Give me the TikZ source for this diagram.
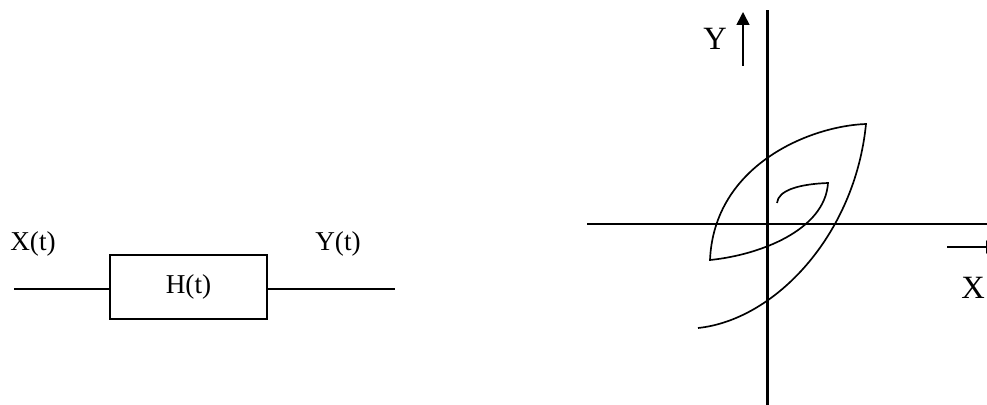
\documentclass[tikz,border=0pt]{standalone}
\usepackage{fontspec}
\setmainfont{Liberation Serif}
\usetikzlibrary{positioning,arrows.meta}

\begin{document}
\begin{tikzpicture}[x=0.02cm,y=-0.02cm,
    lbl/.style={font=\fontsize{15.5}{18}\selectfont,inner sep=0pt},
    axlbl/.style={font=\fontsize{18.5}{21}\selectfont,inner sep=0pt},
    blk/.style={draw,line width=0.9pt,minimum width=3.14cm,minimum height=1.28cm,
                inner sep=0pt,font=\fontsize{15.5}{18}\selectfont},
    wire/.style={line width=0.9pt},
    axis/.style={line width=1.7pt},
    loop/.style={line width=0.95pt},
    ar/.style={-{Triangle[length=2.6mm,width=2.6mm]},line width=0.9pt}]
  \useasboundingbox (0,0) rectangle (987,405);
  \node[blk] (sys) at (188.5,287) {H(t)};
  \coordinate (in) at (14,289);
  \coordinate (out) at (395,289);
  \node[lbl] (xin) at (33,244) {X(t)};
  \node[lbl] (yout) at (338,244) {Y(t)};
  \draw[wire] (in) -- (in -| sys.west);
  \draw[wire] (out -| sys.east) -- (out);
  \coordinate (xl) at (587,224);
  \coordinate (xr) at (987,224);
  \coordinate (yb) at (767,405);
  \coordinate (yt) at (767,10);
  \draw[axis] (xl) -- (xr);
  \draw[axis] (yb) -- (yt);
  \node[axlbl] (ylab) at (715,39) {Y};
  \node[axlbl] (xlab) at (973,288) {X};
  \coordinate (ya) at (743,66);
  \coordinate (yh) at (743,12);
  \coordinate (xa) at (947,247);
  \coordinate (xh) at (999,247);
  \draw[ar] (ya) -- (yh);
  \draw[ar] (xa) -- (xh);
  \draw[loop] (698,328) .. controls (775,320) and (855,235) .. (866,124)
                        .. controls (810,126) and (714,165) .. (710,260)
                        .. controls (760,255) and (825,230) .. (828,183)
                        .. controls (800,184) and (778,190) .. (777,203);
\end{tikzpicture}
\end{document}
